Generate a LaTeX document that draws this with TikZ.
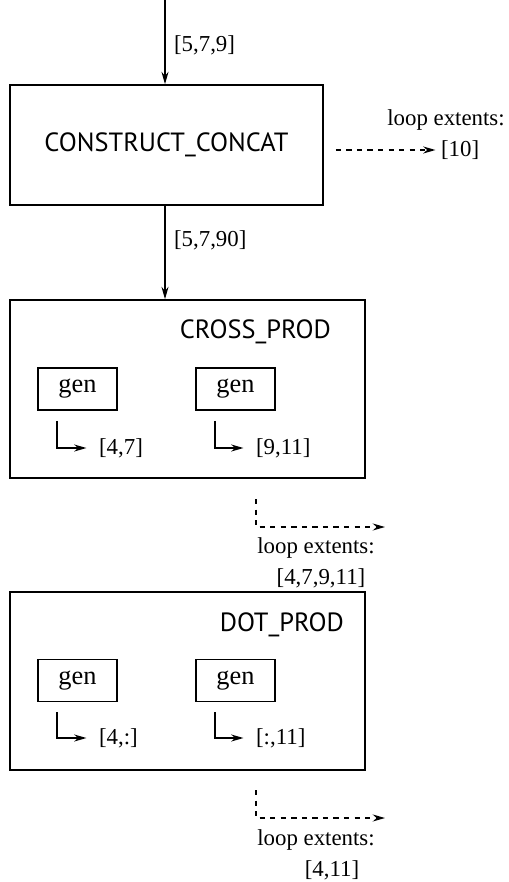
\documentclass[tikz,border=0pt]{standalone}
\usepackage{fontspec}
\setmainfont{Liberation Serif}
\newfontfamily\opfont{PT Sans}
\usetikzlibrary{arrows.meta, positioning}

\begin{document}
\begin{tikzpicture}[
      x=0.02cm, y=-0.02cm,
      opbox/.style={draw, line width=1pt, align=center, font=\opfont\fontsize{15}{18}\selectfont},
      title/.style={font=\opfont\fontsize{15}{18}\selectfont},
      genbox/.style={draw, line width=1pt, minimum width=1.58cm, minimum height=0.84cm,
                     font=\fontsize{15}{17}\selectfont},
      lbl/.style={font=\fontsize{13}{15}\selectfont, inner sep=1pt},
      arr/.style={-{Stealth[length=7pt, width=4pt]}, line width=0.8pt},
      dasharr/.style={-{Stealth[length=7pt, width=4pt]}, line width=0.8pt,
                      dash pattern=on 3pt off 3pt}
   ]
      \useasboundingbox (0,0) rectangle (508,882);

      % construct_concat
      \node[opbox, minimum width=6.26cm, minimum height=2.4cm] (concat) at (166.5,145) {CONSTRUCT\_CONCAT};
      \coordinate (in) at (165,0);
      \draw[arr] (in) -- (in |- concat.north);
      \node[lbl, anchor=west] (l579) at (172,45) {[5,7,9]};

      \node[lbl] (ext0) at (446,120) {loop extents:};
      \node[lbl, anchor=west] (r0) at (439,150) {[10]};
      \draw[dasharr, shorten >=2pt] ([xshift=0.24cm]concat.east |- r0.west) -- (r0.west);

      % cross_prod
      \node[opbox, minimum width=7.1cm, minimum height=3.56cm] (cross) at (187.5,389) {};
      \node[title, anchor=east] (crossT) at (337,332) {CROSS\_PROD};
      \draw[arr] (in |- concat.south) -- (in |- cross.north);
      \node[lbl, anchor=west] (l5790) at (172,240) {[5,7,90]};

      \node[genbox] (genA) at (77.5,389) {gen};
      \node[genbox] (genB) at (235.5,389) {gen};
      \node[lbl, anchor=west] (rA) at (97,448) {[4,7]};
      \node[lbl, anchor=west] (rB) at (254,448) {[9,11]};
      \draw[arr, shorten >=6pt] ([xshift=0.4cm, yshift=-0.2cm]genA.south west) |- (rA.west);
      \draw[arr, shorten >=6pt] ([xshift=0.4cm, yshift=-0.2cm]genB.south west) |- (rB.west);

      \coordinate (c1) at (256,499);
      \coordinate (e1) at (385,527);
      \draw[dasharr] (c1) |- (e1);
      \node[lbl] (ext1) at (316,548) {loop extents:};
      \node[lbl] (r1) at (321,578) {[4,7,9,11]};

      % dot_prod
      \node[opbox, minimum width=7.1cm, minimum height=3.56cm] (dot) at (187.5,681) {};
      \node[title, anchor=east] (dotT) at (350,625) {DOT\_PROD};

      \node[genbox] (genC) at (77.5,680.5) {gen};
      \node[genbox] (genD) at (235.5,680.5) {gen};
      \node[lbl, anchor=west] (rC) at (97,738) {[4,:]};
      \node[lbl, anchor=west] (rD) at (254,738) {[:,11]};
      \draw[arr, shorten >=6pt] ([xshift=0.4cm, yshift=-0.2cm]genC.south west) |- (rC.west);
      \draw[arr, shorten >=6pt] ([xshift=0.4cm, yshift=-0.2cm]genD.south west) |- (rD.west);

      \coordinate (c2) at (256,790);
      \coordinate (e2) at (385,818);
      \draw[dasharr] (c2) |- (e2);
      \node[lbl] (ext2) at (316,840) {loop extents:};
      \node[lbl] (r2) at (332,870) {[4,11]};
   \end{tikzpicture}
\end{document}
